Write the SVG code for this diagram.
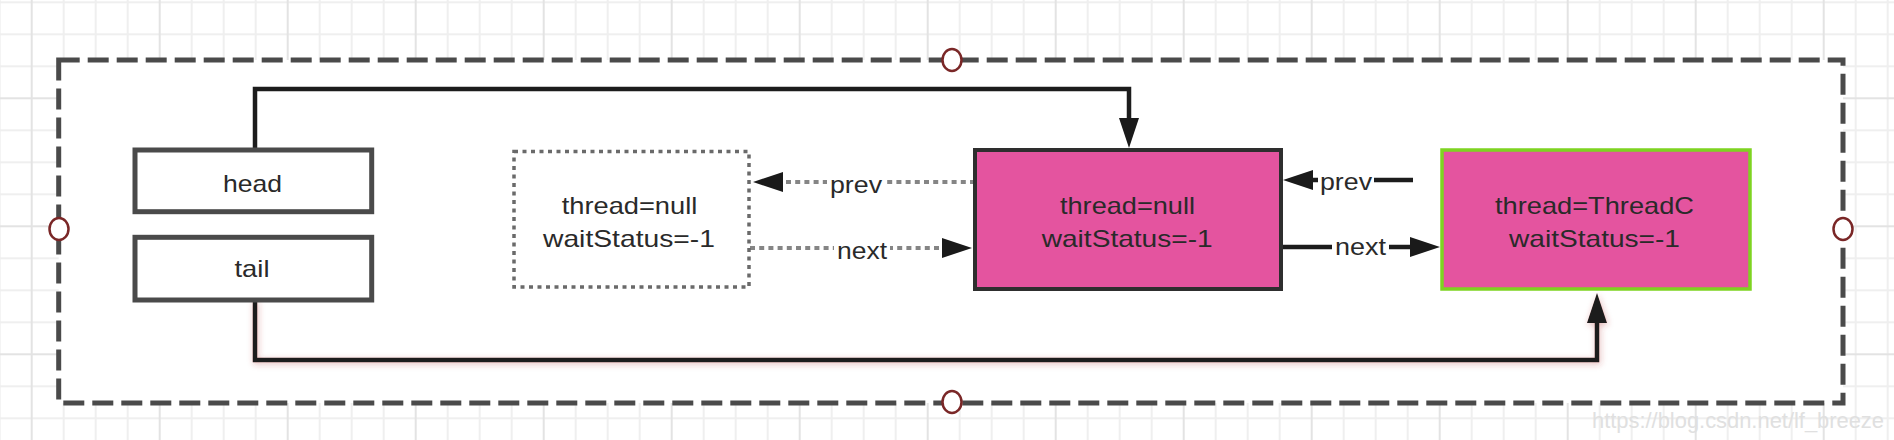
<svg xmlns="http://www.w3.org/2000/svg" width="1894" height="440" viewBox="0 0 1894 440">
<style>
.t{font-family:"Liberation Sans",Arial,sans-serif;font-size:24px;fill:#2a2a2a}
.box{fill:#ffffff;stroke:#4a4a4a;stroke-width:5}
.pink{fill:#e4549f}
.solid{fill:none;stroke:#1c1c1c;stroke-width:4.5}
.dot{fill:none;stroke:#858585;stroke-width:4;stroke-dasharray:5 4.2}
.lbl{fill:#ffffff}
.anchor{fill:#ffffff;stroke:#7a2727;stroke-width:2.5}
</style>
<defs>
<pattern id="grid" patternUnits="userSpaceOnUse" x="15.7" y="-45.7" width="128" height="128">
<path d="M48 0V128M80 0V128M112 0V128M0 48H128M0 80H128M0 112H128" stroke="#efefef" stroke-width="2" fill="none"/>
<path d="M16 0V128M0 16H128" stroke="#e3e3e3" stroke-width="2" fill="none"/>
</pattern>
<marker id="arr" viewBox="0 0 30 20" refX="0" refY="10" markerWidth="30" markerHeight="20" markerUnits="userSpaceOnUse" orient="auto">
<path d="M0 0L30 10L0 20Z" fill="#1a1a1a"/>
</marker>
<filter id="glow" x="-5%" y="-50%" width="110%" height="200%">
<feDropShadow dx="1" dy="2" stdDeviation="3" flood-color="#b03030" flood-opacity="0.35"/>
</filter>
</defs>
<rect width="1894" height="440" fill="#ffffff"/>
<rect width="1894" height="440" fill="url(#grid)"/>
<g id="container">
<rect x="58.7" y="60" width="1784.3" height="343" fill="#ffffff" stroke="#4a4a4a" stroke-width="5" stroke-dasharray="21 8"/>
<ellipse class="anchor" cx="59" cy="229" rx="9.5" ry="11"/>
<ellipse class="anchor" cx="952" cy="60" rx="9.5" ry="11"/>
<ellipse class="anchor" cx="952" cy="402" rx="9.5" ry="11"/>
<ellipse class="anchor" cx="1843" cy="229" rx="9.5" ry="11"/>
</g>
<g id="connectors">
<path class="solid" d="M255 150V89H1129V118" marker-end="url(#arr)"/>
<g filter="url(#glow)">
<path class="solid" d="M255 300V360H1597V323" marker-end="url(#arr)"/>
</g>
<path class="dot" d="M975 182H783" marker-end="url(#arr)"/>
<rect class="lbl" x="827" y="170" width="58" height="28"/>
<text class="t" x="830" y="193" textLength="52" lengthAdjust="spacingAndGlyphs">prev</text>
<path class="dot" d="M750 248H942" marker-end="url(#arr)"/>
<rect class="lbl" x="834" y="236" width="56" height="28"/>
<text class="t" x="837" y="259" textLength="50" lengthAdjust="spacingAndGlyphs">next</text>
<path class="solid" d="M1413 180H1313" marker-end="url(#arr)"/>
<rect class="lbl" x="1318" y="168" width="56" height="28"/>
<text class="t" x="1320" y="190" textLength="52" lengthAdjust="spacingAndGlyphs">prev</text>
<path class="solid" d="M1281 247H1410" marker-end="url(#arr)"/>
<rect class="lbl" x="1332" y="235" width="57" height="26"/>
<text class="t" x="1335" y="255" textLength="51" lengthAdjust="spacingAndGlyphs">next</text>
</g>
<g id="head">
<rect class="box" x="135" y="150" width="236.7" height="61.7"/>
<text class="t" x="223" y="192" textLength="59" lengthAdjust="spacingAndGlyphs">head</text>
</g>
<g id="tail">
<rect class="box" x="135" y="237.3" width="236.7" height="62.7"/>
<text class="t" x="234.5" y="277" textLength="35" lengthAdjust="spacingAndGlyphs">tail</text>
</g>
<g id="node-old">
<rect x="514" y="151.5" width="235" height="135.5" fill="#ffffff" stroke="#6a6a6a" stroke-width="3.5" stroke-dasharray="4 4.5"/>
<text class="t" x="561.7" y="214" textLength="135.6" lengthAdjust="spacingAndGlyphs">thread=null</text>
<text class="t" x="543" y="246.7" textLength="172" lengthAdjust="spacingAndGlyphs">waitStatus=-1</text>
</g>
<g id="node-head">
<rect class="pink" x="975" y="150" width="306" height="139" stroke="#2e2e2e" stroke-width="4"/>
<text class="t" x="1060" y="214" textLength="135" lengthAdjust="spacingAndGlyphs">thread=null</text>
<text class="t" x="1041.7" y="246.7" textLength="171" lengthAdjust="spacingAndGlyphs">waitStatus=-1</text>
</g>
<g id="node-threadC">
<rect class="pink" x="1442" y="150" width="308" height="139" stroke="#7ed321" stroke-width="3.5"/>
<text class="t" x="1495" y="213.5" textLength="199" lengthAdjust="spacingAndGlyphs">thread=ThreadC</text>
<text class="t" x="1509" y="246.5" textLength="171" lengthAdjust="spacingAndGlyphs">waitStatus=-1</text>
</g>
<text x="1592" y="428" font-family="'Liberation Sans',Arial,sans-serif" font-size="22" fill="#e0e0e0" textLength="292" lengthAdjust="spacingAndGlyphs">https://blog.csdn.net/lf_breeze</text>
</svg>
